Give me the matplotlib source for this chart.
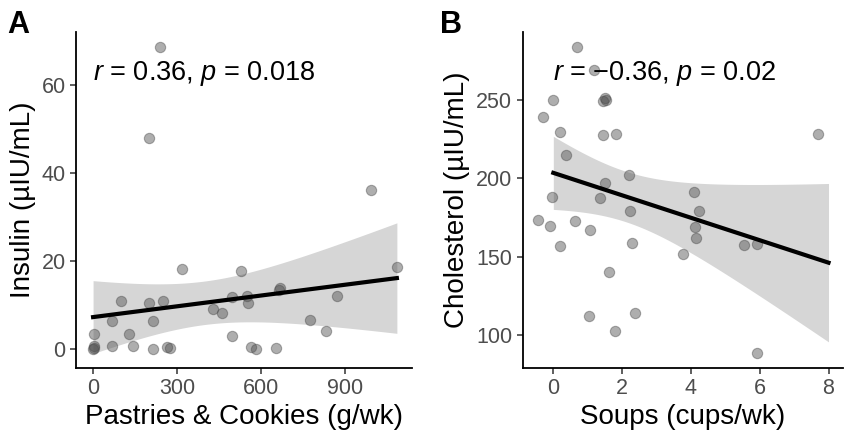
import numpy as np
import matplotlib
matplotlib.use('Agg')
import matplotlib.pyplot as plt

plt.rcParams['font.family'] = ['Liberation Sans', 'DejaVu Sans']
plt.rcParams['mathtext.fontset'] = 'custom'
plt.rcParams['mathtext.rm'] = 'Liberation Sans'
plt.rcParams['mathtext.it'] = 'Liberation Sans:italic'

# Panel A: pastries & cookies (g/wk) vs insulin (µIU/mL)
pastries = [239, 198, 993, 1085, 317, 527, 668, 663, 871, 495, 549, 555, 99, 198,
            250, 430, 460, 67, 214, 773, 831, 4, 129, 495, 4, 0, 3, 67, 144, 214,
            265, 273, 563, 581, 655]
insulin = [68.6, 47.9, 36.1, 18.7, 18.1, 17.7, 13.8, 13.4, 12.1, 11.9, 12.1, 10.4, 11.0, 10.5,
           11.0, 9.2, 8.3, 6.4, 6.4, 6.6, 4.2, 3.4, 3.4, 3.0, 0.7, 0.0, 0.3, 0.7, 0.8, 0.0,
           0.5, 0.2, 0.4, 0.0, 0.3]
pastries_range = (0, 1085)

# Panel B: soups (cups/wk) vs cholesterol (µIU/mL)
soups = [0.70, 1.18, 0.00, 1.45, 1.50, 1.52, -0.31, 0.19, 1.44, 1.81, 7.69, 0.37, 2.19, 1.50,
         4.08, -0.04, 1.37, 4.24, 2.24, -0.44, 0.63, -0.10, 4.11, 1.06, 4.14, 0.20, 2.29,
         5.54, 5.92, 3.78, 1.61, 1.03, 2.37, 1.78, 5.92]
cholesterol = [283.4, 268.7, 249.8, 249.3, 250.9, 250.0, 239.1, 229.2, 227.6, 228.1, 228.5, 214.7,
               202.1, 197.3, 191.3, 187.9, 187.7, 179.4, 179.0, 173.4, 172.8, 169.8, 169.2, 166.8,
               162.2, 157.0, 158.7, 157.4, 158.3, 152.1, 140.2, 112.4, 114.5, 102.6, 89.0]
soups_range = (0, 8)

stats_a = r'$\mathit{r}$ = 0.36, $\mathit{p}$ = 0.018'
stats_b = '$\\mathit{r}$ = \u22120.36, $\\mathit{p}$ = 0.02'


def lm_band(x, y, x_range, t_crit=2.035):
    # linear fit with 95% confidence band, like geom_smooth(method = "lm")
    x = np.asarray(x, float)
    y = np.asarray(y, float)
    n = len(x)
    slope, intercept = np.polyfit(x, y, 1)
    resid = y - (intercept + slope * x)
    s = np.sqrt(np.sum(resid ** 2) / (n - 2))
    xs = np.linspace(x_range[0], x_range[1], 100)
    fit = intercept + slope * xs
    se = s * np.sqrt(1 / n + (xs - x.mean()) ** 2 / np.sum((x - x.mean()) ** 2))
    return xs, fit, fit - t_crit * se, fit + t_crit * se


def draw_panel(ax, x, y, x_range, stats, xlabel, ylabel, xticks, yticks, xlim, ylim):
    xs, fit, lo, hi = lm_band(x, y, x_range)
    ax.fill_between(xs, lo, hi, color='#d6d6d6', lw=0, zorder=1)
    ax.scatter(x, y, s=55, facecolor='#4d4d4d', edgecolor='#4d4d4d', linewidths=0.8,
               alpha=0.45, zorder=2)
    ax.plot(xs, fit, color='black', lw=3.0, zorder=3)
    ax.text(0, ylim[0] + (ylim[1] - ylim[0]) * 0.858, stats, fontsize=19.5, ha='left',
            va='baseline', zorder=4)
    ax.set_xlim(*xlim)
    ax.set_ylim(*ylim)
    ax.set_xticks(xticks)
    ax.set_yticks(yticks)
    ax.set_xlabel(xlabel, fontsize=20, labelpad=3)
    ax.set_ylabel(ylabel, fontsize=20, labelpad=4)
    for side in ['top', 'right']:
        ax.spines[side].set_visible(False)
    for side in ['left', 'bottom']:
        ax.spines[side].set_linewidth(1.3)
    ax.tick_params(length=4.5, width=1.1, color='#333333', labelsize=15.5,
                   labelcolor='#4d4d4d', pad=3)


fig = plt.figure(figsize=(8.51, 4.44), dpi=100)
ax1 = fig.add_axes([76 / 851, 76 / 444, 336 / 851, 336 / 444])
ax2 = fig.add_axes([522.7 / 851, 76 / 444, 320.6 / 851, 336 / 444])

draw_panel(ax1, pastries, insulin, pastries_range, stats_a,
           'Pastries & Cookies (g/wk)', 'Insulin (\u00b5IU/mL)',
           [0, 300, 600, 900], [0, 20, 40, 60], (-61, 1139), (-4.3, 72.1))
draw_panel(ax2, soups, cholesterol, soups_range, stats_b,
           'Soups (cups/wk)', 'Cholesterol (\u00b5IU/mL)',
           [0, 2, 4, 6, 8], [100, 150, 200, 250], (-0.89, 8.43), (79.3, 293.1))

fig.text(7 / 851, 1 - 33.3 / 444, 'A', fontsize=22, fontweight='bold', va='baseline')
fig.text(440 / 851, 1 - 33.3 / 444, 'B', fontsize=22, fontweight='bold', va='baseline')

plt.savefig('out.png', dpi=100)
